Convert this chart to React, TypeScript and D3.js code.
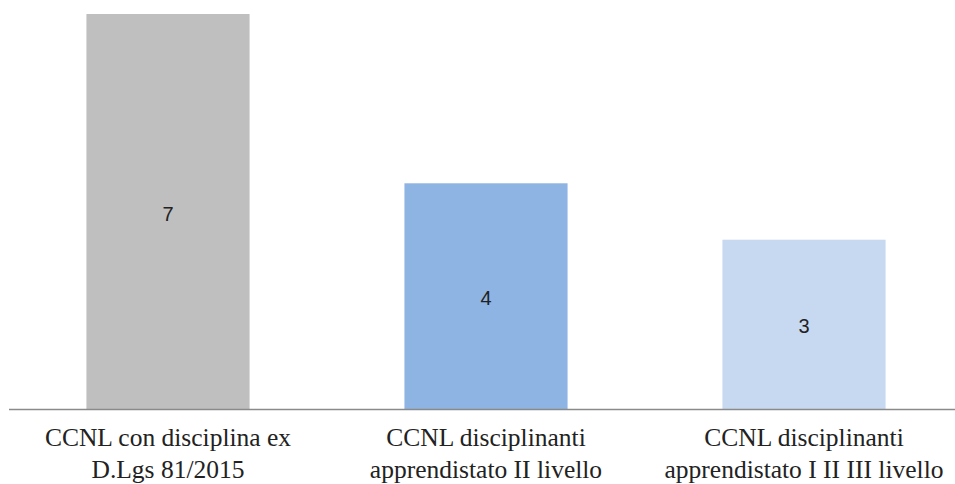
import { useEffect, useRef } from 'react';
import * as d3 from 'd3';

// data
const categories = ['ccnl81', 'ccnlII', 'ccnlIIII'];
const labelLines = [
  ['CCNL con disciplina ex', 'D.Lgs 81/2015'],
  ['CCNL disciplinanti', 'apprendistato II livello'],
  ['CCNL disciplinanti', 'apprendistato I II III livello'],
];
const values = [7, 4, 3];
const colors = ['#BFBFBF', '#8EB4E3', '#C6D9F1'];

const W = 955;
const H = 484;

export default function App() {
  const svgRef = useRef<SVGSVGElement>(null);

  useEffect(() => {
    if (!svgRef.current) return;
    const svg = d3.select(svgRef.current);
    svg.selectAll('*').remove();

    const baseline = 409;

    const x = d3.scaleBand()
      .domain(categories)
      .range([9, 963])
      .paddingInner(0.487)
      .paddingOuter(0.2435);

    const y = d3.scaleLinear()
      .domain([0, 7])
      .range([baseline, 14]);

    // bars
    svg.append('g')
      .selectAll('rect')
      .data(values)
      .join('rect')
      .attr('x', (_, i) => x(categories[i])!)
      .attr('y', d => y(d))
      .attr('width', x.bandwidth())
      .attr('height', d => baseline - y(d))
      .attr('fill', (_, i) => colors[i]);

    // value labels in the middle of each bar
    svg.append('g')
      .selectAll('text')
      .data(values)
      .join('text')
      .attr('x', (_, i) => x(categories[i])! + x.bandwidth() / 2)
      .attr('y', d => (y(d) + baseline) / 2 + 2)
      .attr('text-anchor', 'middle')
      .attr('dominant-baseline', 'central')
      .attr('font-family', '"Liberation Sans", Arial, sans-serif')
      .attr('font-size', '20px')
      .attr('fill', '#222')
      .text(d => d.toString());

    // category axis line
    svg.append('line')
      .attr('x1', 9)
      .attr('x2', W)
      .attr('y1', baseline + 0.5)
      .attr('y2', baseline + 0.5)
      .attr('stroke', '#8a8a8a')
      .attr('stroke-width', 1.5);

    // category labels, two lines each
    const lbl = svg.append('g')
      .attr('font-family', '"Liberation Serif", "Times New Roman", serif')
      .attr('font-size', '25.5px')
      .attr('fill', '#222')
      .attr('text-anchor', 'middle');

    categories.forEach((c, i) => {
      const cx = x(c)! + x.bandwidth() / 2;
      labelLines[i].forEach((line, j) => {
        lbl.append('text')
          .attr('x', cx)
          .attr('y', 446 + j * 32)
          .text(line);
      });
    });
  }, []);

  return (
    <div style={{ position: 'absolute', left: 0, top: 0, background: '#fff' }}>
      <svg ref={svgRef} width={W} height={H} style={{ display: 'block' }} />
    </div>
  );
}
